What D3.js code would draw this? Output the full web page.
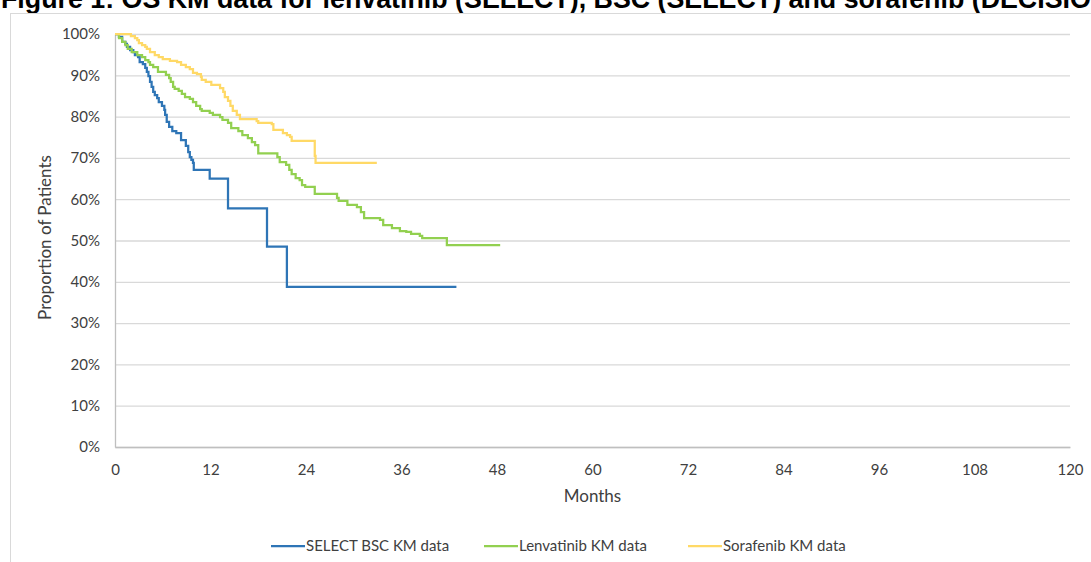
<!DOCTYPE html>
<html lang="en">
<head>
    <meta charset="UTF-8">
    <title>OS KM data</title>
    <script src="https://d3js.org/d3.v7.min.js"></script>
    <style>
        body { margin: 0; background: #fff; }
        svg text { font-family: Lato, "Open Sans", sans-serif; fill: #404040; }
    </style>
</head>
<body>
<div id="chart"></div>
<script>
// months / survival proportion
const bscMonths = [0, 0.5, 0.9, 1.3, 1.5, 1.9, 2.3, 2.5, 2.9, 3.1, 3.5, 3.8, 4.0, 4.2, 4.4, 4.6, 4.8, 5.0, 5.3, 5.5,
    5.9, 6.2, 6.3, 6.5, 6.8, 7.2, 7.7, 8.3, 8.9, 9.2, 9.4, 9.6, 9.8, 9.9, 11.9, 14.2, 19.1, 21.6, 42.9];
const bscSurv = [1.0, 0.993, 0.981, 0.976, 0.969, 0.961, 0.956, 0.949, 0.944, 0.932, 0.927, 0.918, 0.908, 0.898, 0.884, 0.872, 0.860, 0.852, 0.845, 0.835,
    0.826, 0.816, 0.804, 0.787, 0.775, 0.765, 0.760, 0.743, 0.729, 0.714, 0.702, 0.695, 0.688, 0.671, 0.650, 0.578, 0.485, 0.388, 0.388];

const lenvMonths = [0, 0.5, 0.9, 1.3, 1.6, 2.1, 2.8, 3.4, 3.8, 4.2, 4.4, 4.8, 5.4, 6.4, 6.8, 7.0, 7.3, 7.5, 8.0, 8.4,
    8.8, 9.4, 9.8, 10.2, 10.7, 10.9, 11.9, 12.3, 13.2, 13.5, 14.2, 14.6, 15.5, 16.0, 16.7, 17.2, 17.6, 18.0, 20.4, 20.7,
    21.5, 21.9, 22.2, 22.7, 23.2, 23.5, 23.9, 25.1, 27.9, 28.1, 29.2, 30.4, 30.9, 31.3, 33.3, 33.7, 34.8, 35.8, 36.6, 37.2,
    38.3, 38.6, 41.7, 48.4];
const lenvSurv = [1.0, 0.990, 0.981, 0.973, 0.964, 0.956, 0.949, 0.944, 0.937, 0.932, 0.925, 0.920, 0.908, 0.901, 0.893, 0.884, 0.872, 0.867, 0.862, 0.855,
    0.847, 0.843, 0.835, 0.826, 0.818, 0.814, 0.809, 0.804, 0.799, 0.792, 0.785, 0.772, 0.765, 0.755, 0.748, 0.738, 0.731, 0.711, 0.702, 0.690,
    0.683, 0.671, 0.661, 0.651, 0.646, 0.634, 0.630, 0.613, 0.603, 0.596, 0.586, 0.581, 0.569, 0.554, 0.550, 0.537, 0.530, 0.523, 0.521, 0.516,
    0.511, 0.506, 0.489, 0.489];

const soraMonths = [0, 2.0, 2.5, 2.8, 3.0, 3.4, 3.8, 4.0, 4.4, 5.0, 5.5, 6.0, 6.9, 7.8, 8.3, 8.9, 9.4, 9.8, 10.3, 10.8,
    10.9, 11.4, 12.1, 13.2, 13.6, 13.8, 14.2, 14.5, 14.8, 15.3, 15.7, 17.8, 18.0, 19.7, 19.9, 21.1, 21.6, 22.0, 22.2, 25.1,
    25.2, 32.9];
const soraSurv = [1.0, 0.995, 0.990, 0.985, 0.978, 0.973, 0.969, 0.964, 0.956, 0.949, 0.944, 0.939, 0.935, 0.932, 0.925, 0.920, 0.915, 0.906, 0.903, 0.896,
    0.889, 0.884, 0.877, 0.869, 0.860, 0.847, 0.838, 0.826, 0.814, 0.804, 0.794, 0.789, 0.785, 0.782, 0.768, 0.760, 0.755, 0.751, 0.741, 0.705,
    0.688, 0.688];

const seriesNames = ["SELECT BSC KM data", "Lenvatinib KM data", "Sorafenib KM data"];
const seriesColors = ["#2e75b6", "#92d050", "#ffd966"];
const xTicks = [0, 12, 24, 36, 48, 60, 72, 84, 96, 108, 120];
const yTicks = [0, 0.1, 0.2, 0.3, 0.4, 0.5, 0.6, 0.7, 0.8, 0.9, 1.0];
const titleText = "Figure 1: OS KM data for lenvatinib (SELECT), BSC (SELECT) and sorafenib (DECISION)";

const width = 1091, height = 562;
const margin = {left: 115, right: 21, top: 34, bottom: 115};

const svg = d3.select("#chart").append("svg")
    .attr("width", width)
    .attr("height", height);

// title, cut off at the top like the source image
svg.append("text")
    .attr("x", 1)
    .attr("y", 8)
    .attr("font-size", "26.8px")
    .attr("font-weight", "bold")
    .style("font-family", "'Liberation Sans', Arial, sans-serif")
    .style("fill", "#000")
    .text(titleText);

// chart area frame
svg.append("rect")
    .attr("x", 10.5).attr("y", 13.5)
    .attr("width", 1200).attr("height", 600)
    .attr("fill", "#fff")
    .attr("stroke", "#d9d9d9");

const x = d3.scaleLinear().domain([0, 120]).range([margin.left, width - margin.right]);
const y = d3.scaleLinear().domain([0, 1]).range([height - margin.bottom, margin.top]);

// gridlines
svg.append("g")
    .attr("transform", `translate(${margin.left},0)`)
    .call(d3.axisLeft(y).tickValues(yTicks).tickSize(-(width - margin.left - margin.right)).tickFormat(""))
    .call(g => g.select(".domain").remove())
    .call(g => g.selectAll("line").attr("stroke", "#d9d9d9").attr("stroke-width", 1.3));

// y axis
svg.append("g")
    .attr("transform", `translate(${margin.left},0)`)
    .call(d3.axisLeft(y).tickValues(yTicks).tickFormat(d3.format(".0%")).tickSize(0).tickPadding(15))
    .call(g => g.select(".domain").attr("stroke", "#bfbfbf").attr("stroke-width", 1.3))
    .call(g => g.selectAll("text").attr("font-size", "15px").style("font-family", "Lato, sans-serif"));

// x axis
svg.append("g")
    .attr("transform", `translate(0,${height - margin.bottom})`)
    .call(d3.axisBottom(x).tickValues(xTicks).tickSize(0).tickPadding(17))
    .call(g => g.select(".domain").attr("stroke", "#bfbfbf").attr("stroke-width", 1.3))
    .call(g => g.selectAll("text").attr("font-size", "15px").style("font-family", "Lato, sans-serif"));

svg.append("text")
    .attr("x", (x(0) + x(120)) / 2)
    .attr("y", 502)
    .attr("text-anchor", "middle")
    .attr("font-size", "17px")
    .text("Months");

svg.append("text")
    .attr("transform", `translate(51,${y(0.5) - 3}) rotate(-90)`)
    .attr("text-anchor", "middle")
    .attr("font-size", "17px")
    .text("Proportion of Patients");

// KM step curves
const line = d3.line()
    .x(d => x(d[0]))
    .y(d => y(d[1]))
    .curve(d3.curveStepAfter);

const series = [
    d3.zip(bscMonths, bscSurv),
    d3.zip(lenvMonths, lenvSurv),
    d3.zip(soraMonths, soraSurv)
];

svg.selectAll(".km")
    .data(series)
    .enter()
    .append("path")
    .attr("class", "km")
    .attr("fill", "none")
    .attr("stroke", (d, i) => seriesColors[i])
    .attr("stroke-width", 2.25)
    .attr("d", line);

// legend
const legendX = [271, 484, 688];
const legend = svg.selectAll(".legend")
    .data(seriesNames)
    .enter()
    .append("g")
    .attr("class", "legend")
    .attr("transform", (d, i) => `translate(${legendX[i]},546)`);

legend.append("line")
    .attr("x1", 0).attr("x2", 34)
    .attr("stroke", (d, i) => seriesColors[i])
    .attr("stroke-width", 2.25);

legend.append("text")
    .attr("x", 35)
    .attr("dy", "0.35em")
    .attr("font-size", "15px")
    .text(d => d);
</script>
</body>
</html>
